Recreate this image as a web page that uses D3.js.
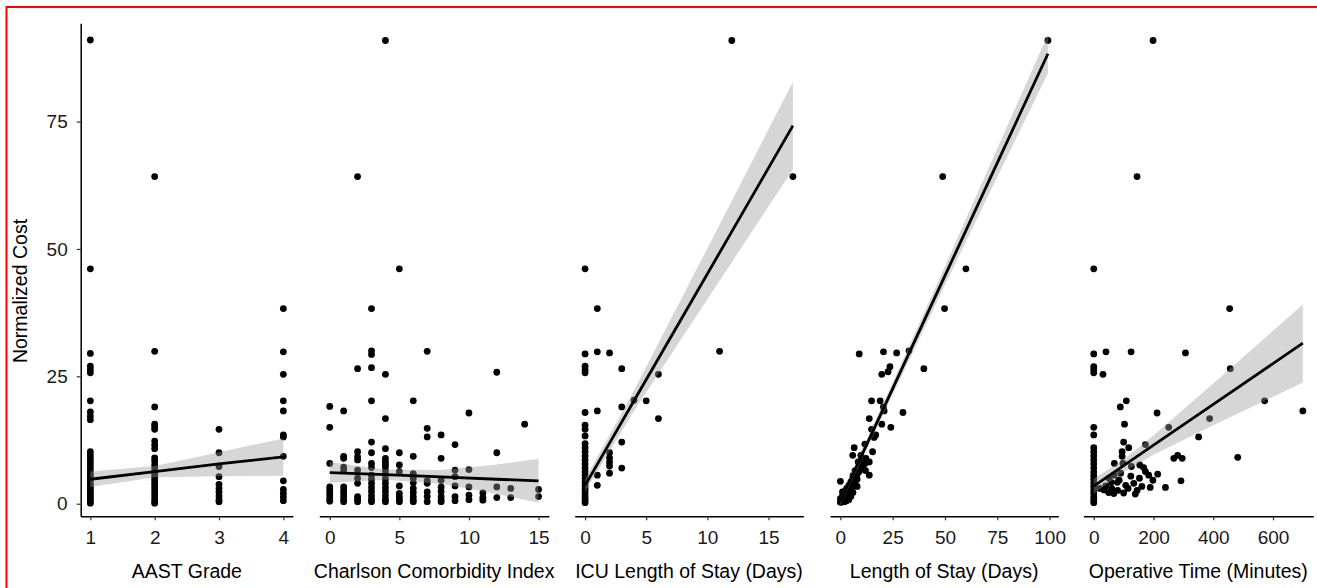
<!DOCTYPE html>
<html>
<head>
<meta charset="utf-8">
<script src="https://cdn.jsdelivr.net/npm/d3@7"></script>
<style>
  body { margin: 0; background: #fff; }
  svg text { font-family: "Liberation Sans", Arial, Helvetica, sans-serif; }
</style>
</head>
<body>
<svg id="chart" width="1317" height="588"></svg>
<script>
// y is shared by all panels: normalized cost
const yTicks = [0, 25, 50, 75];

// AAST Grade vs cost
const aastTicks = [1, 2, 3, 4];
const aastPoints = [
  [1, 91], [1, 46.1], [1, 29.5], [1, 27.0], [1, 26.3], [1, 25.7], [1, 20.2], [1, 18.0], [1, 17.2], [1, 16.5],
  [1, 10.2], [1, 9.6], [1, 9.0], [1, 8.4], [1, 7.8], [1, 7.2], [1, 6.6], [1, 6.0], [1, 5.5], [1, 5.0],
  [1, 4.5], [1, 4.0], [1, 3.5], [1, 3.0], [1, 2.5], [1, 2.0], [1, 1.6], [1, 1.2], [1, 0.8], [1, 0.4], [1, 0.1],
  [2, 64.2], [2, 29.9], [2, 19.0], [2, 15.6], [2, 15.1], [2, 14.6], [2, 12.3], [2, 11.5], [2, 10.8], [2, 9.0],
  [2, 8.4], [2, 7.6], [2, 7.0], [2, 6.4], [2, 5.8], [2, 5.2], [2, 4.6], [2, 4.0], [2, 3.4], [2, 2.8],
  [2, 2.2], [2, 1.6], [2, 1.0], [2, 0.5], [2, 0.1],
  [3, 14.6], [3, 10.0], [3, 7.3], [3, 5.3], [3, 3.8], [3, 3.0], [3, 2.3], [3, 1.5], [3, 0.8], [3, 0.4],
  [4, 38.3], [4, 29.8], [4, 25.4], [4, 20.2], [4, 18.2], [4, 13.5], [4, 13.1], [4, 9.3], [4, 4.5], [4, 2.8],
  [4, 2.0], [4, 1.3], [4, 0.6]
];
// x, fit, lower, upper
const aastFit = [[1, 4.8, 3.3, 6.3], [2, 6.3, 5.2, 7.4], [3, 7.8, 5.4, 10.1], [4, 9.2, 5.5, 12.8]];

// Charlson Comorbidity Index vs cost
const cciTicks = [0, 5, 10, 15];
const cciPoints = [
  [0, 19.1], [0, 15.0], [0, 7.9], [0, 3.3], [0, 2.8], [0, 2.2], [0, 1.6], [0, 1.0], [0, 0.5],
  [1, 18.2], [1, 9.3], [1, 8.9], [1, 7.2], [1, 6.6], [1, 3.3], [1, 2.6], [1, 2.0], [1, 1.4], [1, 0.8], [1, 0.4],
  [2, 64.2], [2, 26.5], [2, 10.2], [2, 9.2], [2, 8.6], [2, 6.6], [2, 5.0], [2, 4.0], [2, 1.4], [2, 0.9], [2, 0.4],
  [3, 38.3], [3, 30.0], [3, 29.3], [3, 26.7], [3, 20.2], [3, 12.1], [3, 10.0], [3, 7.9], [3, 7.1], [3, 5.6],
  [3, 4.8], [3, 4.0], [3, 3.2], [3, 2.4], [3, 1.6], [3, 0.9], [3, 0.4],
  [4, 90.9], [4, 25.4], [4, 16.7], [4, 10.8], [4, 8.9], [4, 8.3], [4, 7.7], [4, 7.2], [4, 6.4], [4, 5.6],
  [4, 4.8], [4, 4.0], [4, 3.2], [4, 2.4], [4, 1.6], [4, 0.9], [4, 0.4],
  [5, 46.1], [5, 10.0], [5, 7.6], [5, 6.3], [5, 3.5], [5, 2.0], [5, 1.3], [5, 0.8], [5, 0.4],
  [6, 20.2], [6, 9.3], [6, 5.9], [6, 5.0], [6, 4.1], [6, 3.0], [6, 2.2], [6, 1.4], [6, 0.8], [6, 0.4],
  [7, 29.9], [7, 14.8], [7, 13.1], [7, 4.5], [7, 4.0], [7, 2.3], [7, 1.4], [7, 0.4],
  [8, 13.5], [8, 8.9], [8, 4.6], [8, 3.3], [8, 2.4], [8, 1.4], [8, 0.8], [8, 0.4],
  [9, 11.6], [9, 6.6], [9, 5.3], [9, 3.5], [9, 1.4], [9, 0.6],
  [10, 17.8], [10, 6.7], [10, 3.3], [10, 1.7], [10, 0.8],
  [11, 2.1], [11, 1.2], [11, 0.7],
  [12, 25.8], [12, 10.0], [12, 3.3], [12, 1.2],
  [13, 3.0], [13, 1.2], [14, 15.6], [15, 2.8], [15, 1.4]
];
const cciFit = [[0, 6.1, 4.1, 8.2], [4, 5.7, 4.7, 6.7], [8, 5.25, 3.9, 6.6], [12, 4.8, 1.9, 7.7], [15, 4.5, 0.2, 8.8]];

// ICU length of stay vs cost
const icuTicks = [0, 5, 10, 15];
const icuPoints = [
  [0, 46.1], [0, 29.4], [0, 27.0], [0, 26.3], [0, 25.7], [0, 17.9], [0, 15.4], [0, 14.6], [0, 13.3], [0, 11.8],
  [0, 11.0], [0, 10.2], [0, 9.4], [0, 8.6], [0, 7.8], [0, 7.0], [0, 6.3], [0, 5.6], [0, 4.9], [0, 4.2],
  [0, 3.6], [0, 3.0], [0, 2.4], [0, 1.8], [0, 1.2], [0, 0.7], [0, 0.2],
  [1, 38.3], [1, 29.8], [1, 18.2], [1, 5.6], [1, 3.6],
  [2, 29.6], [2, 10.0], [2, 9.0], [2, 8.2], [2, 7.4], [2, 6.0],
  [3, 26.5], [3, 19.0], [3, 12.1], [3, 7.0],
  [4, 20.3], [5, 20.2], [6, 25.4], [6, 16.7], [11, 29.9], [12, 90.9], [17, 64.2]
];
const icuFit = [[0, 3.6, 2.4, 4.8], [2, 11.9, 10.3, 13.5], [4, 20.2, 18.2, 22.2], [8, 36.8, 32.8, 40.8], [12, 53.4, 47.4, 59.4], [17, 74.2, 65.6, 82.8]];

// Length of stay vs cost
const losTicks = [0, 25, 50, 75, 100];
const losPoints = [
  [99.2, 90.9], [48.9, 64.2], [60, 46.1], [49.8, 38.3], [9, 29.4], [20.6, 29.8], [26.9, 29.6], [32.8, 30.0],
  [39.9, 26.5], [23.7, 26.9], [19.8, 25.4], [22.8, 25.9], [14.9, 20.2], [19, 20.2], [20.6, 19.0], [20.9, 18.2],
  [29.9, 17.9], [13.8, 16.7], [19.8, 15.6], [24.1, 15.0], [14.9, 14.6], [16.9, 13.5], [16.1, 13.0], [6.6, 11.0],
  [11.7, 11.7], [15.4, 10.2], [5.9, 9.5], [9.8, 9.5], [12.2, 8.9], [13.8, 8.2], [8.5, 8.2], [13.8, 5.6], [0, 4.4],
  [1, 0.5], [1.5, 0.8], [2, 1.2], [0.5, 0.3], [2.5, 1.6], [3, 2.0], [3, 1.2], [4, 2.5], [4, 1.8], [5, 3.0],
  [5, 2.2], [6, 3.5], [6, 4.4], [7, 4.0], [7, 5.2], [8, 4.8], [8, 5.8], [9, 6.3], [10, 6.9], [10, 7.5],
  [11, 7.2], [12, 8.0], [3, 3.0], [2, 2.4], [4, 3.6], [5, 4.3], [6, 5.5], [7, 6.5], [9, 7.8], [1, 1.5],
  [0, 0.3], [0, 1.0], [1, 2.3], [3, 0.6], [2, 0.4], [4, 0.8], [5, 1.4], [6, 2.2], [11, 8.6], [10, 9.0],
  [12, 6.5], [8, 3.4]
];
const losFit = [[0, 0.5, -0.3, 1.3], [25, 22.6, 21.4, 23.8], [50, 44.75, 42.9, 46.6], [75, 66.9, 64.1, 69.7], [99.2, 88.3, 84.5, 92.1]];

// Operative time vs cost
const opTicks = [0, 200, 400, 600];
const opPoints = [
  [0, 46.1], [0, 29.4], [0, 26.9], [0, 26.3], [0, 25.7], [0, 15.0], [0, 13.5], [0, 11.0], [0, 10.2], [0, 9.4],
  [0, 8.6], [0, 7.8], [0, 7.0], [0, 6.2], [0, 5.5], [0, 4.8], [0, 4.1], [0, 3.4], [0, 2.7], [0, 2.0],
  [0, 1.3], [0, 0.7], [0, 0.2],
  [198.6, 90.9], [145, 64.2], [455, 38.3], [41, 29.8], [125, 29.8], [307, 29.6], [31, 25.4], [457, 26.5],
  [572, 20.2], [700, 18.2], [109, 20.2], [89, 19.0], [212, 17.8], [388, 16.7], [103, 15.6], [251, 15.0],
  [351, 13.1], [173, 11.6], [100, 12.1], [117, 11.0], [95, 10.2], [95, 9.3], [482, 9.1], [268, 8.9],
  [281, 9.5], [296, 8.9], [69, 7.9], [98, 7.9], [154, 7.6], [167, 7.1], [173, 6.3], [184, 5.6], [214, 5.8],
  [51, 5.0], [68, 5.6], [79, 4.2], [90, 6.0], [107, 3.6], [124, 5.4], [34, 2.7], [50, 2.2], [67, 2.0],
  [100, 2.1], [139, 1.9], [198, 4.6], [189, 3.2], [161, 3.4], [240, 3.2], [292, 4.5], [134, 4.0], [153, 5.0],
  [126, 7.3], [20, 3.0], [40, 3.5], [60, 3.0], [80, 2.6], [115, 3.0], [145, 2.6], [58, 4.2], [85, 4.6]
];
const opFit = [[0, 3.45, 2.0, 4.9], [100, 7.46, 6.2, 8.7], [200, 11.5, 9.6, 13.4], [400, 19.5, 15.4, 23.6], [700, 31.5, 23.8, 39.1]];

const panels = [
  { title: "AAST Grade", pts: aastPoints, fit: aastFit, ticks: aastTicks, domain: [0.85, 4.15], range: [80.7, 293] },
  { title: "Charlson Comorbidity Index", pts: cciPoints, fit: cciFit, ticks: cciTicks, domain: [-0.75, 15.75], range: [319.3, 549] },
  { title: "ICU Length of Stay (Days)", pts: icuPoints, fit: icuFit, ticks: icuTicks, domain: [-0.85, 17.85], range: [574.7, 803.3] },
  { title: "Length of Stay (Days)", pts: losPoints, fit: losFit, ticks: losTicks, domain: [-4.96, 104.16], range: [830, 1058.3] },
  { title: "Operative Time (Minutes)", pts: opPoints, fit: opFit, ticks: opTicks, domain: [-35, 735], range: [1083.3, 1313.3] }
];

const svg = d3.select("#chart");
const axisY = 516.3;
const y = d3.scaleLinear().domain([-2.47, 94.3]).range([axisY, 23.2]);

// y axis only on the first panel
const gy = svg.append("g")
    .attr("transform", "translate(80.7,0)")
    .call(d3.axisLeft(y).tickValues(yTicks).tickSize(4).tickSizeOuter(0).tickPadding(9));
gy.select(".domain").attr("stroke", "#000").attr("stroke-width", 1.5);
gy.selectAll(".tick line").attr("stroke", "#333").attr("stroke-width", 1.2);
gy.selectAll(".tick text").attr("font-size", 19).attr("fill", "#1a1a1a");

svg.append("text")
    .attr("transform", "translate(27,291) rotate(-90)")
    .attr("text-anchor", "middle")
    .attr("font-size", 19.5)
    .attr("fill", "#000")
    .text("Normalized Cost");

panels.forEach(function(p) {
  const x = d3.scaleLinear().domain(p.domain).range(p.range);
  const g = svg.append("g");

  g.selectAll("circle")
    .data(p.pts)
    .enter().append("circle")
      .attr("cx", function(d) { return x(d[0]); })
      .attr("cy", function(d) { return y(d[1]); })
      .attr("r", 3.4)
      .attr("fill", "#000");

  // confidence band drawn over the points like geom_smooth
  const band = d3.area()
      .x(function(d) { return x(d[0]); })
      .y0(function(d) { return y(d[2]); })
      .y1(function(d) { return y(d[3]); });
  g.append("path")
      .attr("d", band(p.fit))
      .attr("fill", "#999")
      .attr("fill-opacity", 0.4);

  const line = d3.line()
      .x(function(d) { return x(d[0]); })
      .y(function(d) { return y(d[1]); });
  g.append("path")
      .attr("d", line(p.fit))
      .attr("fill", "none")
      .attr("stroke", "#000")
      .attr("stroke-width", 2.8);

  const gx = g.append("g")
      .attr("transform", "translate(0," + axisY + ")")
      .call(d3.axisBottom(x).tickValues(p.ticks).tickFormat(d3.format("d"))
        .tickSize(4).tickSizeOuter(0).tickPadding(10));
  gx.select(".domain").attr("stroke", "#000").attr("stroke-width", 1.5);
  gx.selectAll(".tick line").attr("stroke", "#333").attr("stroke-width", 1.2);
  gx.selectAll(".tick text").attr("font-size", 19).attr("fill", "#1a1a1a");

  g.append("text")
      .attr("x", (p.range[0] + p.range[1]) / 2)
      .attr("y", 578)
      .attr("text-anchor", "middle")
      .attr("font-size", 19.5)
      .attr("fill", "#000")
      .text(p.title);
});

// red frame, cut by the right and bottom edges of the picture
svg.append("rect")
    .attr("x", 6.5).attr("y", 7)
    .attr("width", 1330).attr("height", 600)
    .attr("fill", "none")
    .attr("stroke", "#f00")
    .attr("stroke-width", 2);
</script>
</body>
</html>
